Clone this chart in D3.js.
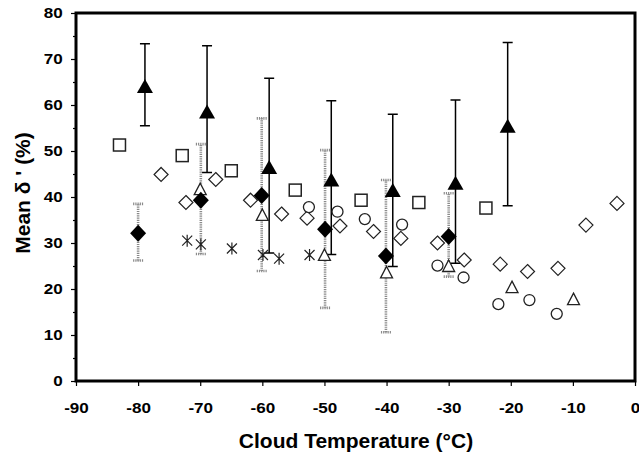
<!DOCTYPE html>
<html><head><meta charset="utf-8">
<script src="https://cdn.jsdelivr.net/npm/d3@7"></script>
<style>body{margin:0;background:#fff}svg{display:block}text{font-family:"Liberation Sans",Arial,sans-serif;font-weight:bold;fill:#000}</style>
</head><body>
<script>
const xTicks = [-90,-80,-70,-60,-50,-40,-30,-20,-10,0];
const yTicks = [0,10,20,30,40,50,60,70,80];
const yMinorTicks = [5,15,25,35,45,55,65,75];

// Filled triangles with solid error bars
const ftTemp = [-78.9,-68.9,-58.9,-48.9,-39.0,-28.9,-20.5];
const ftMean = [64.0,58.5,46.4,43.7,41.4,43.0,55.4];
const ftLow  = [55.5,45.3,27.8,27.5,24.9,25.6,38.1];
const ftHigh = [73.3,72.9,65.8,60.9,58.0,61.1,73.6];

// Filled diamonds with dotted error bars
const fdTemp = [-80.0,-69.9,-60.1,-49.9,-40.1,-30.0];
const fdMean = [32.1,39.3,40.3,33.0,27.2,31.4];
const fdLow  = [26.2,27.6,23.9,15.9,10.6,22.7];
const fdHigh = [38.5,51.5,57.1,50.2,43.7,40.8];

// Open triangles
const otTemp = [-70.0,-60.0,-50.0,-40.0,-30.0,-19.8,-9.9];
const otVal  = [41.7,36.1,27.4,23.6,25.0,20.4,17.8];

// Open squares
const osTemp = [-83.0,-72.9,-65.0,-54.7,-44.1,-34.8,-24.0];
const osVal  = [51.3,49.0,45.7,41.5,39.3,38.8,37.6];

// Open circles
const ocTemp = [-52.5,-47.9,-43.5,-37.5,-31.8,-27.6,-22.0,-17.0,-12.6];
const ocVal  = [37.8,36.8,35.2,34.0,25.1,22.5,16.7,17.6,14.6];

// Open diamonds
const odTemp = [-76.3,-72.3,-67.5,-61.9,-56.9,-52.8,-47.5,-42.1,-37.7,-31.8,-27.5,-21.7,-17.3,-12.4,-7.9,-2.9];
const odVal  = [44.9,38.8,43.8,39.3,36.3,35.4,33.7,32.5,31.0,30.0,26.3,25.4,23.8,24.5,33.9,38.6];

// Stars
const stTemp = [-72.1,-69.9,-64.9,-59.9,-57.3,-52.4];
const stVal  = [30.5,29.7,28.8,27.4,26.6,27.4];

const W = 639, H = 455;
const svg = d3.select("body").append("svg").attr("width", W).attr("height", H);
const x = d3.scaleLinear().domain([-90,0]).range([76,635]);
const y = d3.scaleLinear().domain([0,80]).range([381,13]);

// axes
const gx = svg.append("g").attr("transform", `translate(0,${y(0)})`)
  .call(d3.axisBottom(x).tickValues(xTicks).tickSize(5).tickPadding(16).tickFormat(d => String(d)));
const gy = svg.append("g").attr("transform", `translate(${x(-90)},0)`)
  .call(d3.axisLeft(y).tickValues(yTicks).tickSize(5).tickPadding(7).tickFormat(d => String(d)));
svg.append("g").attr("transform", `translate(${x(-90)},0)`)
  .call(d3.axisLeft(y).tickValues(yMinorTicks).tickSize(3).tickFormat(""))
  .select(".domain").remove();
[gx, gy].forEach(g => {
  g.select(".domain").remove();
  g.selectAll(".tick text").style("font-size", "15.5px")
    .style("font-family", "Liberation Sans, Arial, sans-serif").style("font-weight", "bold")
    .attr("transform", "scale(1.1,1)");
});
svg.selectAll(".tick line").attr("stroke", "#000").attr("stroke-width", 1.2);

// frame
svg.append("rect").attr("x", x(-90)).attr("y", y(80))
  .attr("width", x(0) - x(-90)).attr("height", y(0) - y(80))
  .attr("fill", "none").attr("stroke", "#000").attr("stroke-width", 3);

// titles
svg.append("text").attr("x", 356).attr("y", 448).attr("text-anchor", "middle")
  .style("font-size", "21px").text("Cloud Temperature (°C)");
svg.append("text").attr("transform", `translate(30,193) rotate(-90)`)
  .attr("text-anchor", "middle").style("font-size", "21px").text("Mean δ ' (%)");

const plot = svg.append("g");

function errBars(temps, lows, highs, style) {
  const g = plot.append("g");
  temps.forEach((t, i) => {
    const cx = x(t);
    const cap = style.cap;
    const path = `M${cx},${y(lows[i])}V${y(highs[i])}M${cx-cap},${y(highs[i])}H${cx+cap}M${cx-cap},${y(lows[i])}H${cx+cap}`;
    g.append("path").attr("d", path).attr("fill", "none")
      .attr("stroke", style.color).attr("stroke-width", style.width)
      .attr("stroke-dasharray", style.dash || null);
  });
}
errBars(fdTemp, fdLow, fdHigh, {color: "#8a8a8a", width: 2.6, dash: "1.2,1", cap: 5});
errBars(ftTemp, ftLow, ftHigh, {color: "#000", width: 1.5, cap: 5});

function markers(temps, vals, draw) {
  const g = plot.append("g");
  temps.forEach((t, i) => {
    draw(g.append("g").attr("transform", `translate(${x(t)},${y(vals[i])})`));
  });
}

// open diamonds
markers(odTemp, odVal, g => g.append("path").attr("d", "M0,-7L7,0L0,7L-7,0Z")
  .attr("fill", "#fff").attr("stroke", "#222").attr("stroke-width", 1.2));
// open circles
markers(ocTemp, ocVal, g => g.append("circle").attr("r", 5.5)
  .attr("fill", "#fff").attr("stroke", "#222").attr("stroke-width", 1.3));
// open squares
markers(osTemp, osVal, g => g.append("rect").attr("x", -6).attr("y", -6).attr("width", 12).attr("height", 12)
  .attr("fill", "#fff").attr("stroke", "#222").attr("stroke-width", 1.5));
// stars
markers(stTemp, stVal, g => g.append("path").attr("d", "M0,-6V6M-5,-5L5,5M-5,5L5,-5")
  .attr("fill", "none").attr("stroke", "#222").attr("stroke-width", 1.2));
// open triangles
markers(otTemp, otVal, g => g.append("path").attr("d", "M0,-6L6,5.5L-6,5.5Z")
  .attr("fill", "#fff").attr("stroke", "#222").attr("stroke-width", 1.3));
// filled diamonds
markers(fdTemp, fdMean, g => g.append("path").attr("d", "M0,-8.5L8,0L0,8.5L-8,0Z").attr("fill", "#000"));
// filled triangles
markers(ftTemp, ftMean, g => g.append("path").attr("d", "M0,-7.5L8,6.5L-8,6.5Z").attr("fill", "#000"));
</script>
</body></html>
